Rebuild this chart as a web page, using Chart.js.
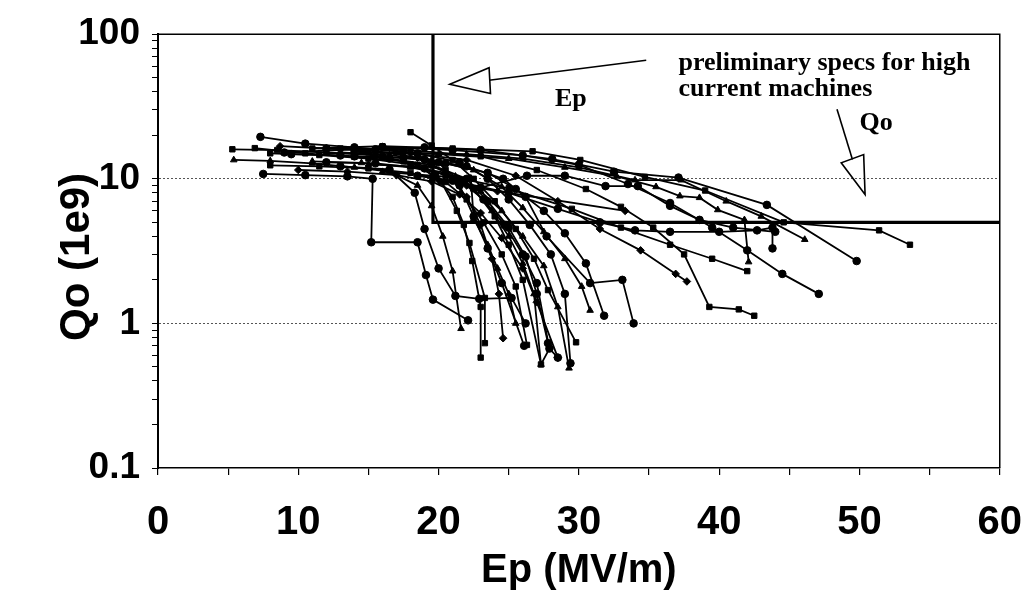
<!DOCTYPE html>
<html>
<head>
<meta charset="utf-8">
<script src="https://cdn.jsdelivr.net/npm/chart.js@4"></script>
<style>
html, body { margin: 0; background: #fff; }
#wrap { width: 1025px; height: 595px; }
</style>
</head>
<body>
<div id="wrap"><canvas id="chart" width="1025" height="595"></canvas></div>
<script>
//---------------------------------------- data: [Ep (MV/m), Qo (1e9)] ----------------------------------------//

var run01 = [[7.3,19.5],[10.5,17.5],[14,16.5],[17.5,15.5],[20,13],[21.5,9],[22.5,5.5],[23.5,3.3],[24.5,1.9],[26.1,0.70]];
var run02 = [[5.3,16.0],[8.5,15.8],[12,15.2],[15.5,14.5],[18.5,12.5],[20.2,9.5],[21.3,6],[22.2,3.6],[23.3,1.5],[23.3,0.73]];
var run03 = [[5.4,13.5],[8,13.3],[11,12.8],[14,12],[16.5,11.2],[18.5,9],[19.5,6.5],[20.3,4],[21,2.3],[21.6,0.92]];
var run04 = [[7.5,10.8],[10.5,10.6],[13.5,10.4],[15.3,10],[15.2,3.64],[18.5,3.64],[19.1,2.16],[19.6,1.46],[22.1,1.05]];
var run05 = [[8.7,16.8],[12,16.2],[15.5,15.6],[18.5,14],[20.5,11],[22,7.5],[23,4.8],[23.8,2.8],[24.3,1.6],[24.6,0.79]];
var run06 = [[6.9,16.3],[10.5,15],[14,14.2],[17.5,13.2],[20.5,11.5],[22.5,8.5],[24,5.5],[25,3.5],[26,2],[27.3,0.52],[27.9,0.67]];
var run07 = [[9.5,14.8],[13,14.5],[16.5,13.8],[19.5,12.5],[22,10],[23.5,7],[25,4.6],[26.2,2.9],[27,1.6],[27.8,0.73]];
var run08 = [[11,13.2],[14.5,12.9],[18,12],[21.2,10.4],[23,8.2],[24.5,6],[26,4],[27.5,2.5],[28.5,1.3],[29.3,0.49]];
var run09 = [[12,16.2],[15.5,16],[18.5,15],[21.5,13],[23.5,10],[25,7.2],[26.5,4.8],[28,3],[29,1.6],[29.4,0.53]];
var run10 = [[8,12.4],[11.5,12.2],[15,11.8],[18,11],[20.5,9.5],[22,7.2],[23.2,5],[24.5,3],[25.5,1.8],[26.3,0.71]];
var run11 = [[13,15.2],[16.5,14.6],[19.5,13.5],[22.5,11.5],[24.5,8.8],[26,6.3],[27.5,4.3],[29,2.8],[30.2,1.8],[30.8,1.23]];
var run12 = [[14,14.3],[17.5,14],[20.5,12.8],[23.5,11],[25.5,8.5],[27.5,6],[29,4.2],[30.5,2.6],[31.8,1.13]];
var run13 = [[10,11.5],[13.5,11.2],[17,10.6],[19.5,9.6],[21.5,7.8],[23,5.8],[24.5,3.9],[26,2.4],[27,1.4],[28.5,0.58]];
var run14 = [[8,15],[11.5,14.6],[15,13.8],[18,12.6],[19.8,10.5],[21,7.5],[21.8,4.8],[22.4,2.7],[23,1.3],[23.0,0.58]];
var run15 = [[16,14.2],[19,13.6],[22,12.2],[24.6,10],[26.2,7.5],[27.7,4.0],[30.8,1.9],[33.1,2.0],[33.9,1.0]];
var run16 = [[15,12.6],[18,12.2],[20.5,11],[22.5,8.5],[23.8,6],[25,4],[26,2.6],[26.8,1.6],[27.3,0.52]];
var run17 = [[12,13],[15.5,12.8],[19,11.8],[21.5,9.8],[23.2,7.2],[24.7,4.8],[26,3],[27,1.9],[27.9,0.67],[28.5,0.58]];
var run18 = [[18.0,21.0],[19.5,17],[21,13.5],[22.5,10],[24,7],[25.5,4.5],[26.8,2.8],[27.8,1.7],[29.8,0.74]];
var run19 = [[16,11.2],[19.5,10.5],[22.3,10.1],[22.5,5.3],[23.5,3.5],[24.2,2.4],[25.0,1.6],[25.5,1.0]];
var run20 = [[13,12.2],[16.5,11.6],[18.3,8],[19.0,4.5],[20.0,2.4],[21.2,1.55],[22.9,1.48],[25.2,1.5],[26.2,1.0]];
var run21 = [[14,15.5],[18,15],[22,13.5],[25.5,10.5],[28.5,7],[31.5,4.5],[34.4,3.2],[36.9,2.2],[37.7,1.95]];
var run22 = [[13,16.2],[18,15.8],[23,14.3],[27,11.5],[30.5,8.5],[33,6.4],[35.3,4.6],[37.5,3],[39.3,1.3],[41.4,1.25],[42.5,1.13]];
var run23 = [[16,16.6],[21,15.8],[26,14.5],[30,12.5],[33.5,9.2],[36.5,6.8],[39.5,4.6],[42,3.2],[44.5,2.2],[47.1,1.6]];
var run24 = [[15,15.3],[20,14.8],[25,13.8],[29,12],[32.7,10.4],[35.5,8.8],[37.2,7.6],[38.6,7.4],[39.9,6.1],[41.8,5.2],[42.1,2.66]];
var run25 = [[9,15.2],[14,16],[19,16.5],[23,15.8],[28.1,13.7],[32.5,11.2],[37.1,10.2],[43.4,6.6],[49.8,2.7]];
var run26 = [[11,16.2],[16,16.8],[21,16.2],[26.7,15.5],[30.1,13.5],[34.7,10.3],[39,8.3],[44.6,5.0],[51.4,4.4],[53.6,3.5]];
var run27 = [[12,15],[17,15.2],[22,14.8],[26,13.8],[30,12],[34,9.8],[37.3,9.8],[40.5,7],[43,5.5],[46.1,3.8]];
var run28 = [[21.5,9.5],[25,8],[28.5,6.2],[31.5,5],[34,4.4],[36.5,4.3],[40,4.3],[42.7,4.4],[43.8,4.6],[43.8,3.3]];
var run29 = [[20,9.8],[22,9],[24.2,8.2],[33.3,6.0]];
var run30 = [[20.5,10.5],[25,8.6],[29.5,6.2],[33,4.6],[36.5,3.5],[39.5,2.8],[42,2.3]];
var run31 = [[18.5,10.5],[21,9.7],[23,8.7],[26.3,10.5],[29,10.5],[31.9,8.9],[34.2,8.9],[36.5,6.5],[38.6,5.2],[41,4.6],[44,4.3]];

var runs = [run01, run02, run03, run04, run05, run06, run07, run08, run09, run10,
	run11, run12, run13, run14, run15, run16, run17, run18, run19, run20,
	run21, run22, run23, run24, run25, run26, run27, run28, run29, run30, run31];

// spec box: Ep > ~20 MV/m, Qo > 5e9
var specEp = [19.6, 19.6, 60];
var specQo = [100, 5, 5];

var yLabelled = [0.1, 1, 10, 100];
var yGridAt = [1, 10];

// annotation anchors in data coordinates [Ep, Qo]
var epArrowShaft = [[34.8, 66], [23.6, 48]];
var epArrowHead = [[20.8, 45], [23.6, 58.6], [23.7, 38.9]];
var qoArrowShaft = [[48.4, 30.3], [49.5, 13.6]];
var qoArrowHead = [[50.4, 7.8], [48.7, 12.9], [50.3, 14.7]];
var notes = [
	{text: 'preliminary specs for high', at: [37.1, 56.8]},
	{text: 'current machines', at: [37.1, 37.2]},
	{text: 'Ep', at: [28.3, 31.7]},
	{text: 'Qo', at: [50.0, 21.8]}
];

//---------------------------------------- view ----------------------------------------//

var markers = ['circle', 'rect', 'triangle', 'circle', 'rectRot', 'rect', 'circle', 'triangle'];

function toPoints(run) {
	return run.map(function(p) { return {x: p[0], y: p[1]}; });
}

var datasets = runs.map(function(run, i) {
	return {
		data: toPoints(run),
		showLine: true,
		borderColor: '#000',
		backgroundColor: '#000',
		borderWidth: 1.8,
		pointStyle: markers[i % markers.length],
		pointRadius: 3.8,
		pointBorderWidth: 1
	};
});

datasets.push({
	data: specEp.map(function(e, i) { return {x: e, y: specQo[i]}; }),
	showLine: true,
	borderColor: '#000',
	borderWidth: 3.2,
	pointRadius: 0
});

var notesPlugin = {
	id: 'notes',
	afterDatasetsDraw: function(chart) {
		var ctx = chart.ctx;
		var xs = chart.scales.x, ys = chart.scales.y;
		function px(p) { return [xs.getPixelForValue(p[0]), ys.getPixelForValue(p[1])]; }
		function path(pts, close) {
			ctx.beginPath();
			pts.forEach(function(p, i) {
				var q = px(p);
				if(i == 0) ctx.moveTo(q[0], q[1]); else ctx.lineTo(q[0], q[1]);
			});
			if(close) ctx.closePath();
			ctx.stroke();
		}

		ctx.save();
		ctx.strokeStyle = '#000';
		ctx.fillStyle = '#000';

		// frame: top and right sides
		var a = chart.chartArea;
		ctx.lineWidth = 1.5;
		ctx.beginPath();
		ctx.moveTo(a.left, a.top);
		ctx.lineTo(a.right, a.top);
		ctx.lineTo(a.right, a.bottom);
		ctx.stroke();

		ctx.lineWidth = 1.6;
		path(epArrowShaft);
		path(epArrowHead, true);
		path(qoArrowShaft);
		path(qoArrowHead, true);

		ctx.font = 'bold 26px "Liberation Serif", "Times New Roman", serif';
		ctx.textBaseline = 'alphabetic';
		notes.forEach(function(n) {
			var q = px(n.at);
			ctx.fillText(n.text, q[0], q[1]);
		});
		ctx.restore();
	}
};

Chart.defaults.font.family = '"Liberation Sans", Arial, sans-serif';
Chart.defaults.font.weight = 'bold';
Chart.defaults.color = '#000';

new Chart(document.getElementById('chart'), {
	type: 'scatter',
	data: { datasets: datasets },
	options: {
		responsive: false,
		animation: false,
		devicePixelRatio: 1,
		layout: { padding: { left: 0, top: 28, right: 22, bottom: 0 } },
		plugins: { legend: { display: false }, tooltip: { enabled: false } },
		scales: {
			x: {
				type: 'linear',
				min: 0,
				max: 60,
				afterFit: function(scale) { scale.height = 127; },
				ticks: {
					stepSize: 5,
					font: { size: 40, weight: 'bold', lineHeight: 2.25 },
					padding: 3,
					maxRotation: 0,
					autoSkip: false,
					callback: function(v) { return v % 10 == 0 ? String(v) : ''; }
				},
				grid: { drawOnChartArea: false, tickLength: 7, color: '#000', lineWidth: 1.2 },
				border: { color: '#000', width: 1.5 },
				title: { display: true, text: 'Ep (MV/m)', font: { size: 40, weight: 'bold' }, padding: { top: 0, bottom: 0 } }
			},
			y: {
				type: 'logarithmic',
				min: 0.1,
				max: 100,
				afterFit: function(scale) { scale.width = 158; },
				afterBuildTicks: function(scale) {
					var t = [];
					[0.1, 1, 10].forEach(function(d) {
						for(var m = 1; m < 10; m++) t.push({value: +(d * m).toPrecision(3)});
					});
					t.push({value: 100});
					scale.ticks = t;
				},
				ticks: {
					font: { size: 37, weight: 'bold' },
					padding: 12,
					autoSkip: false,
					callback: function(v) { return yLabelled.indexOf(v) >= 0 ? String(v) : ''; }
				},
				grid: {
					tickLength: 6,
					tickColor: '#000',
					lineWidth: 1,
					color: function(ctx) {
						return ctx.tick && yGridAt.indexOf(ctx.tick.value) >= 0 ? '#555' : 'rgba(0,0,0,0)';
					}
				},
				border: { color: '#000', width: 2, dash: [2, 2] },
				title: { display: true, text: 'Qo (1e9) ', font: { size: 42, weight: 'bold' }, padding: { top: 52, bottom: 0 } }
			}
		}
	},
	plugins: [notesPlugin]
});
</script>
</body>
</html>
